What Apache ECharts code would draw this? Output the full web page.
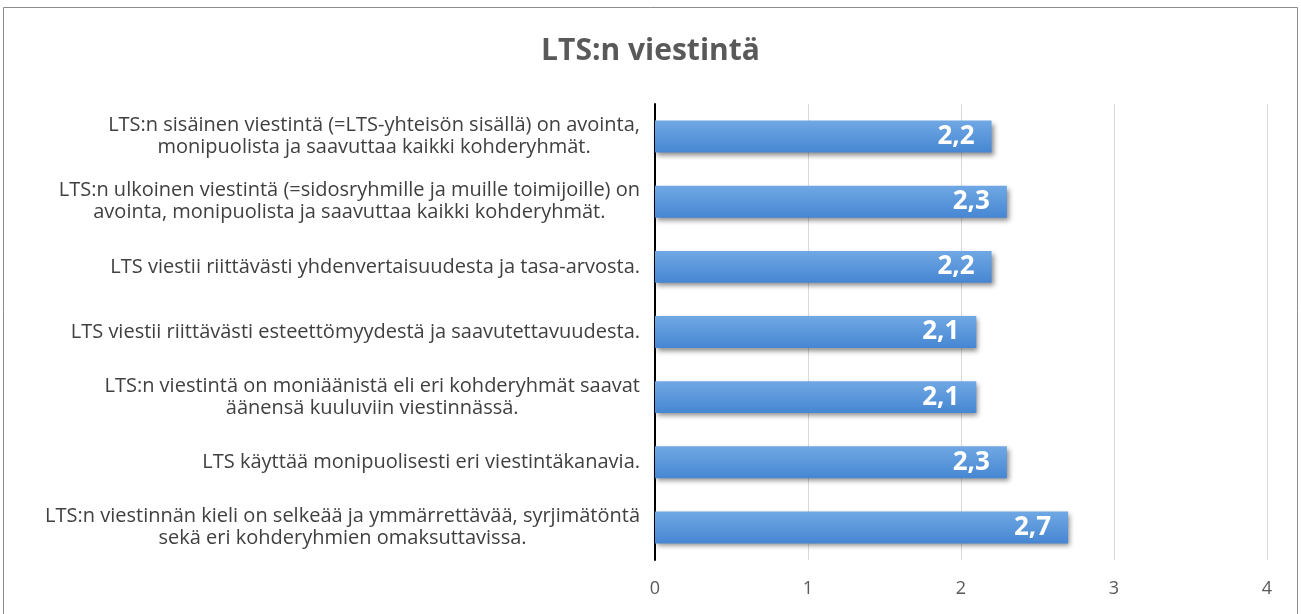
<!DOCTYPE html>
<html>
<head>
<meta charset="utf-8">
<script src="https://cdn.jsdelivr.net/npm/echarts@6/dist/echarts.min.js"></script>
<style>
  html, body { margin: 0; padding: 0; background: #fff; }
  #chart { width: 1301px; height: 614px; }
</style>
</head>
<body>
<div id="chart"></div>
<script>
const categories = [
  'LTS:n sisäinen viestintä (=LTS-yhteisön sisällä) on avointa,\nmonipuolista ja saavuttaa kaikki kohderyhmät.',
  'LTS:n ulkoinen viestintä (=sidosryhmille ja muille toimijoille) on\navointa, monipuolista ja saavuttaa kaikki kohderyhmät.',
  'LTS viestii riittävästi yhdenvertaisuudesta ja tasa-arvosta.',
  'LTS viestii riittävästi esteettömyydestä ja saavutettavuudesta.',
  'LTS:n viestintä on moniäänistä eli eri kohderyhmät saavat\näänensä kuuluviin viestinnässä.',
  'LTS käyttää monipuolisesti eri viestintäkanavia.',
  'LTS:n viestinnän kieli on selkeää ja ymmärrettävää, syrjimätöntä\nsekä eri kohderyhmien omaksuttavissa.'
];
const values = [2.2, 2.3, 2.2, 2.1, 2.1, 2.3, 2.7];

const chart = echarts.init(document.getElementById('chart'));
const font = '"Open Sans", sans-serif';

chart.setOption({
  animation: false,
  title: {
    text: 'LTS:n viestintä',
    left: 'center',
    top: 31,
    textStyle: { color: '#595959', fontSize: 30, fontWeight: 'bold', fontFamily: font }
  },
  graphic: [{
    type: 'rect',
    shape: { x: 3.5, y: 7.5, width: 1294, height: 640 },
    style: { fill: 'none', stroke: '#8c8c8c', lineWidth: 1 },
    silent: true
  }],
  grid: { left: 655, right: 34, top: 104, bottom: 54 },
  xAxis: {
    type: 'value',
    min: 0,
    max: 4,
    interval: 1,
    axisLine: { show: false },
    axisTick: { show: false },
    axisLabel: { color: '#595959', fontSize: 18, fontFamily: font, margin: 20 },
    splitLine: { lineStyle: { color: '#d9d9d9', width: 1 } }
  },
  yAxis: {
    type: 'category',
    inverse: true,
    data: categories,
    axisLine: { lineStyle: { color: '#000', width: 2 } },
    axisTick: { show: false },
    axisLabel: {
      margin: 15,
      formatter: v => v.split('\n').map(l => '{c|' + l + '}').join('\n'),
      rich: {
        c: { align: 'center', color: '#404040', fontSize: 20, lineHeight: 22, fontFamily: font }
      }
    }
  },
  series: [{
    type: 'bar',
    data: values,
    barWidth: '49%',
    itemStyle: {
      color: new echarts.graphic.LinearGradient(0, 0, 0, 1, [
        { offset: 0, color: '#70a8e4' },
        { offset: 1, color: '#4686d2' }
      ]),
      shadowColor: 'rgba(0,0,0,0.45)',
      shadowBlur: 5,
      shadowOffsetX: 2,
      shadowOffsetY: 3
    },
    label: {
      show: true,
      position: 'insideRight',
      distance: 17,
      color: '#fff',
      fontSize: 26,
      fontWeight: 'bold',
      fontFamily: font,
      formatter: p => String(p.value).replace('.', ',')
    }
  }]
});
</script>
</body>
</html>
